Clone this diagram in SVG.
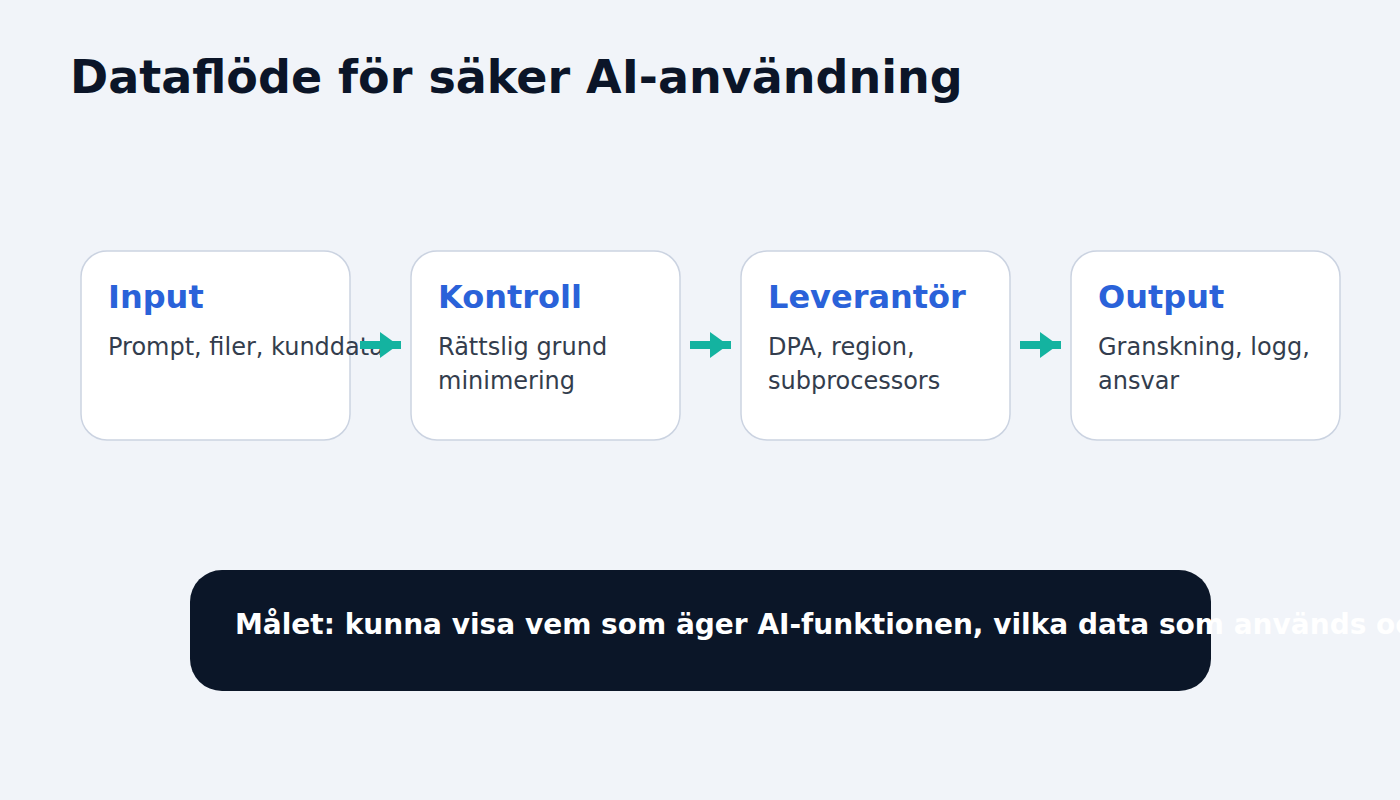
<svg xmlns="http://www.w3.org/2000/svg" width="1400" height="800" viewBox="0 0 1400 800">
  <defs>
    <style>
      .bg { fill: #f1f4f9; }
      .title { font-family: "DejaVu Sans", sans-serif; font-weight: bold; font-size: 46px; fill: #0b1528; }
      .card { fill: #ffffff; stroke: #cbd3e1; stroke-width: 1.5; }
      .card-title { font-family: "DejaVu Sans", sans-serif; font-weight: bold; font-size: 32px; fill: #2a62d9; }
      .card-body { font-family: "DejaVu Sans", sans-serif; font-size: 24px; fill: #333d4d; }
      .conn { stroke: #14b3a0; stroke-width: 8; fill: none; }
      .head { fill: #14b3a0; }
      .banner { fill: #0b1628; }
      .banner-text { font-family: "DejaVu Sans", sans-serif; font-weight: bold; font-size: 28px; fill: #ffffff; }
    </style>
  </defs>
  <rect class="bg" x="0" y="0" width="1400" height="800"/>
  <text class="title" x="70" y="93">Dataflöde för säker AI-användning</text>

  <g id="node-input">
    <rect class="card" x="81" y="251" width="269" height="189" rx="26"/>
    <text class="card-title" x="108" y="308">Input</text>
    <text class="card-body" x="108" y="355">Prompt, filer, kunddata</text>
  </g>
  <g id="node-kontroll">
    <rect class="card" x="411" y="251" width="269" height="189" rx="26"/>
    <text class="card-title" x="438" y="308">Kontroll</text>
    <text class="card-body" x="438" y="355">Rättslig grund</text>
    <text class="card-body" x="438" y="389">minimering</text>
  </g>
  <g id="node-leverantor">
    <rect class="card" x="741" y="251" width="269" height="189" rx="26"/>
    <text class="card-title" x="768" y="308">Leverantör</text>
    <text class="card-body" x="768" y="355">DPA, region,</text>
    <text class="card-body" x="768" y="389">subprocessors</text>
  </g>
  <g id="node-output">
    <rect class="card" x="1071" y="251" width="269" height="189" rx="26"/>
    <text class="card-title" x="1098" y="308">Output</text>
    <text class="card-body" x="1098" y="355">Granskning, logg,</text>
    <text class="card-body" x="1098" y="389">ansvar</text>
  </g>

  <g id="connectors">
    <line class="conn" x1="360" y1="345" x2="401" y2="345"/>
    <polygon class="head" points="380,332 398,345 380,358"/>
    <line class="conn" x1="690" y1="345" x2="731" y2="345"/>
    <polygon class="head" points="710,332 728,345 710,358"/>
    <line class="conn" x1="1020" y1="345" x2="1061" y2="345"/>
    <polygon class="head" points="1040,332 1058,345 1040,358"/>
  </g>

  <g id="banner">
    <rect class="banner" x="190" y="570" width="1021" height="121" rx="32"/>
    <text class="banner-text" x="235" y="634">Målet: kunna visa vem som äger AI-funktionen, vilka data som används och</text>
  </g>
</svg>
